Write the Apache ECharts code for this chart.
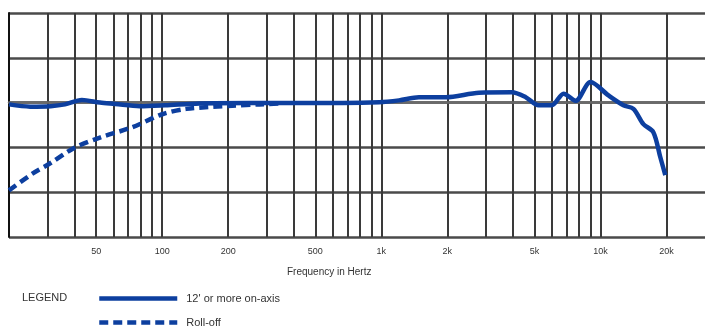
<!DOCTYPE html>
<html><head><meta charset="utf-8">
<script src="https://cdn.jsdelivr.net/npm/echarts@6/dist/echarts.min.js"></script>
<style>html,body{margin:0;padding:0;background:#fff}#c{width:705px;height:331px}</style>
</head><body><div id="c"></div>
<script>
const gridFreqs = [20,30,40,50,60,70,80,90,100,200,300,400,500,600,700,800,900,1000,2000,3000,4000,5000,6000,7000,8000,9000,10000,20000];
const labelFreqs = [50,100,200,500,1000,2000,5000,10000,20000];
const solidFreq = [20,25,31,36,43,52,61,79,103,148,250,422,977,1204,1485,1970,2790,3940,4560,5220,5990,6790,7700,9010,10880,12730,14140,15700,17430,18760,19770];
const solidDb   = [-0.2,-0.45,-0.4,-0.2,0.3,0,-0.15,-0.4,-0.3,-0.1,-0.05,-0.05,0.05,0.25,0.6,0.6,1.1,1.15,0.6,-0.3,-0.3,1.0,0.2,2.3,0.8,-0.3,-0.7,-2.4,-3.3,-6.1,-8.1];
const rollFreq = [20,25.7,30.7,40,52,73,100,129,209,278,350];
const rollDb   = [-9.8,-7.9,-6.8,-5.0,-3.9,-2.75,-1.3,-0.7,-0.35,-0.2,-0.1];
const seriesNames = ["12' or more on-axis", "Roll-off"];

const blue = '#0d3f9f';
const fmt = v => v >= 1000 ? (v/1000) + 'k' : String(v);
const font = 'Liberation Sans, Arial';
const legendBase = {
  orient: 'vertical', left: 97, padding: 0, itemWidth: 78, itemHeight: 14,
  itemStyle: {opacity: 0},
  lineStyle: {width: 4.5},
  textStyle: {color: '#333', fontSize: 11, fontFamily: font, padding: [0,0,0,4]}
};
const chart = echarts.init(document.getElementById('c'));
chart.setOption({
  animation: false,
  grid: {left: 9, right: -2, top: 13, bottom: 94, containLabel: false},
  xAxis: {
    type: 'log', logBase: 10, min: 20, max: 30000,
    axisLine: {show: true, lineStyle: {color: '#6a6a6a', width: 2.5}},
    axisTick: {show: false, customValues: gridFreqs},
    axisLabel: {customValues: labelFreqs, formatter: fmt, color: '#333', fontSize: 9, fontFamily: font, margin: 10},
    splitLine: {show: true, lineStyle: {color: '#3a3a3a', width: 2}},
    minorSplitLine: {show: false}
  },
  yAxis: {
    type: 'value', min: -15, max: 10, interval: 5,
    axisLine: {show: true, lineStyle: {color: '#111', width: 2}},
    axisTick: {show: false}, axisLabel: {show: false},
    splitLine: {show: true, lineStyle: {color: '#4a4a4a', width: 2.5}}
  },
  legend: [
    Object.assign({}, legendBase, {top: 293, data: [seriesNames[0]]}),
    Object.assign({}, legendBase, {top: 317, data: [seriesNames[1]]})
  ],
  graphic: [
    {type: 'text', left: 22, top: 292, style: {text: 'LEGEND', fill: '#333', fontSize: 11, fontFamily: font}},
    {type: 'text', left: 287, top: 267, style: {text: 'Frequency in Hertz', fill: '#333', fontSize: 10, fontFamily: font}}
  ],
  series: [
    {name: seriesNames[0], type: 'line', symbol: 'none', smooth: 0.3, z: 3,
     lineStyle: {color: blue, width: 4.5}, itemStyle: {color: blue},
     data: solidFreq.map((f,i) => [f, solidDb[i]])},
    {name: seriesNames[1], type: 'line', symbol: 'none', smooth: 0.3, z: 2,
     lineStyle: {color: blue, width: 4.5, type: [9,5]}, itemStyle: {color: blue},
     data: rollFreq.map((f,i) => [f, rollDb[i]])}
  ]
});
</script></body></html>
